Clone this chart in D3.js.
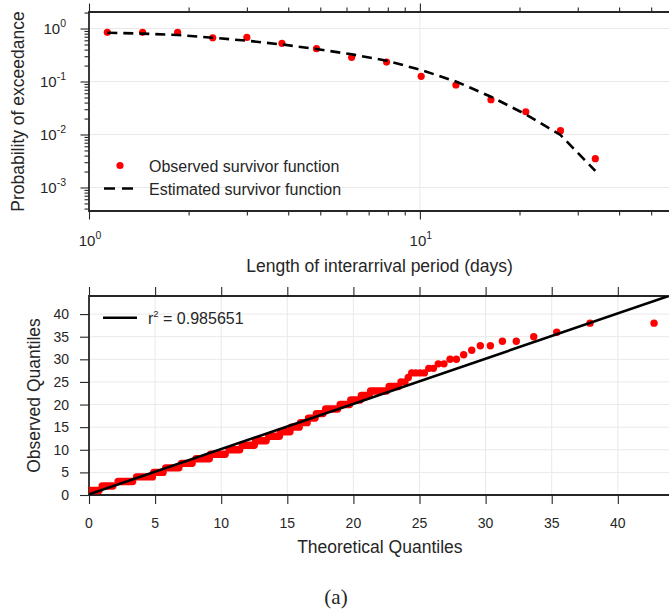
<!DOCTYPE html>
<html><head><meta charset="utf-8">
<script src="https://cdn.jsdelivr.net/npm/d3@7"></script>
<style>
body{margin:0;background:#fff;}
svg text{font-family:"Liberation Sans",Arial,sans-serif;fill:#262626;}
</style></head><body>
<svg id="chart" width="669" height="616"></svg>
<script>
// ---- Survivor function of interarrival periods ----
const survX = [1.136,1.452,1.853,2.365,3.0,3.83,4.87,6.22,7.93,10.09,12.85,16.4,20.9,26.6,33.9];
const survObserved = [0.848,0.848,0.848,0.67,0.68,0.526,0.416,0.286,0.233,0.125,0.0859,0.0454,0.0269,0.0118,0.00349];
const survEstimated = [0.834,0.80,0.753,0.67,0.589,0.50,0.41,0.326,0.247,0.165,0.10,0.0516,0.024,0.0098,0.00205];
const survXMajor = [1, 10];
const survXMinor = [2,3,4,5,6,7,8,9,20,30,40,50];
const survYMajor = [1, 0.1, 0.01, 0.001];
const survYMinor = [0.0004,0.0005,0.0006,0.0007,0.0008,0.0009,
  0.002,0.003,0.004,0.005,0.006,0.007,0.008,0.009,
  0.02,0.03,0.04,0.05,0.06,0.07,0.08,0.09,
  0.2,0.3,0.4,0.5,0.6,0.7,0.8,0.9,2];
const survLegend = ["Observed survivor function", "Estimated survivor function"];

// ---- Q-Q plot: dense integer levels drawn as runs of overlapping points ----
const qqRunLevel = [1,2,3,4,5,6,7,8,9,10,11,12,13,14,15,16,17,18,19,20,21,22,23,24];
const qqRunStart = [0.02,1.0,2.2,3.6,4.9,5.8,7.0,8.1,9.2,10.6,11.6,12.6,13.6,14.5,15.3,16.0,16.6,17.2,17.9,19.0,19.8,20.6,21.3,22.7];
const qqRunEnd   = [0.75,1.8,3.3,4.8,5.6,6.8,7.8,9.1,10.3,11.4,12.5,13.4,14.4,15.2,15.9,16.5,17.1,17.7,18.8,19.7,20.5,21.2,22.5,23.4];
// sparse upper tail, one point each
const qqPointX = [23.6,23.9,24.15,24.41,24.71,25.04,25.37,25.7,26.05,26.42,26.85,27.31,27.79,28.34,28.95,29.6,30.36,31.27,32.32,33.64,35.38,37.9,42.74];
const qqPointY = [25,25,26,27,27,27,27,28,28,29,29,30,30,31,32,33,33,34,34,35,36,38,38];
const qqLineX = [0, 44];
const qqLineY = [0.15, 44.15];
const qqTicks = [0,5,10,15,20,25,30,35,40];
const rSquared = "0.985651";

const ink = "#262626", gridCol = "#e9e9e9", red = "#ff0000";
const labelSize = 17.5, legendSize = 16, tickSize = 14;
const svg = d3.select("#chart");

// ================= top panel =================
const T = {l: 89, r: 670, t: 12, b: 211};
const x1 = d3.scaleLog().domain([1, 57]).range([T.l, T.r]);
const y1 = d3.scaleLog().domain([3.6e-4, 2.05]).range([T.b, T.t]);

svg.append("clipPath").attr("id", "clipTop").append("rect")
  .attr("x", T.l).attr("y", T.t).attr("width", T.r - T.l).attr("height", T.b - T.t);

const gTop = svg.append("g");
gTop.selectAll("line.gy").data(survYMajor).join("line")
  .attr("x1", T.l).attr("x2", T.r).attr("y1", d => y1(d)).attr("y2", d => y1(d))
  .attr("stroke", gridCol).attr("stroke-width", 1);
gTop.selectAll("line.gx").data(survXMajor).join("line")
  .attr("y1", T.t).attr("y2", T.b).attr("x1", d => x1(d)).attr("x2", d => x1(d))
  .attr("stroke", gridCol).attr("stroke-width", 1);

function styleAxis(g) {
  g.select(".domain").remove();
  g.selectAll(".tick line").attr("stroke", ink).attr("stroke-width", 1.1);
  g.selectAll(".tick text").remove();
}
// ticks (outward) on bottom, top and left
[[d3.axisBottom, T.b], [d3.axisTop, T.t]].forEach(([ax, yy]) => {
  gTop.append("g").attr("transform", `translate(0,${yy})`)
    .call(ax(x1).tickValues(survXMajor).tickSize(8.5)).call(styleAxis);
  gTop.append("g").attr("transform", `translate(0,${yy})`)
    .call(ax(x1).tickValues(survXMinor).tickSize(4.5)).call(styleAxis);
});
gTop.append("g").attr("transform", `translate(${T.l},0)`)
  .call(d3.axisLeft(y1).tickValues(survYMajor).tickSize(8.5)).call(styleAxis);
gTop.append("g").attr("transform", `translate(${T.l},0)`)
  .call(d3.axisLeft(y1).tickValues(survYMinor).tickSize(4.5)).call(styleAxis);

// spines
gTop.append("path").attr("d", `M${T.r},${T.t}H${T.l}V${T.b}H${T.r}`)
  .attr("fill", "none").attr("stroke", ink).attr("stroke-width", 1.8);

// data
const plotTop = gTop.append("g").attr("clip-path", "url(#clipTop)");
plotTop.selectAll("circle").data(survX).join("circle")
  .attr("cx", d => x1(d)).attr("cy", (d, i) => y1(survObserved[i])).attr("r", 3.6)
  .attr("fill", red);
plotTop.append("path")
  .datum(survX.map((d, i) => [d, survEstimated[i]]))
  .attr("d", d3.line().x(d => x1(d[0])).y(d => y1(d[1])))
  .attr("fill", "none").attr("stroke", "#000").attr("stroke-width", 2.6)
  .attr("stroke-dasharray", "10,6");

// tick labels with superscript exponents
function powLabel(g, x, y, exp, anchor) {
  const t = g.append("text").attr("x", x).attr("y", y).attr("text-anchor", anchor)
    .attr("font-size", 15);
  t.append("tspan").text("10");
  t.append("tspan").attr("dy", -7).attr("font-size", 10.5).text(exp);
}
survYMajor.forEach(d => powLabel(gTop, 66, y1(d) + 5.2, String(Math.round(Math.log10(d))), "end"));
survXMajor.forEach(d => powLabel(gTop, x1(d) + 1, 246, String(Math.round(Math.log10(d))), "middle"));

gTop.append("text").attr("x", (T.l + T.r) / 2).attr("y", 272).attr("text-anchor", "middle")
  .attr("font-size", labelSize).text("Length of interarrival period (days)");
gTop.append("text").attr("transform", `translate(24,${(T.t + T.b) / 2}) rotate(-90)`)
  .attr("text-anchor", "middle").attr("font-size", labelSize).text("Probability of exceedance");

// legend
gTop.append("circle").attr("cx", 120).attr("cy", 165.5).attr("r", 3.6).attr("fill", red);
gTop.append("line").attr("x1", 104).attr("x2", 133).attr("y1", 188.5).attr("y2", 188.5)
  .attr("stroke", "#000").attr("stroke-width", 2.6).attr("stroke-dasharray", "11,7");
survLegend.forEach((s, i) => gTop.append("text").attr("x", 149).attr("y", 171.5 + i * 23)
  .attr("font-size", legendSize).text(s));

// ================= bottom panel =================
const B = {l: 89, r: 670.7, t: 296, b: 495};
const x2 = d3.scaleLinear().domain([0, 44]).range([B.l, B.r]);
const y2 = d3.scaleLinear().domain([0, 44]).range([B.b, B.t]);

svg.append("clipPath").attr("id", "clipBot").append("rect")
  .attr("x", B.l).attr("y", B.t).attr("width", B.r - B.l).attr("height", B.b - B.t);

const gBot = svg.append("g");
gBot.selectAll("line.gy").data(qqTicks).join("line")
  .attr("x1", B.l).attr("x2", B.r).attr("y1", d => y2(d)).attr("y2", d => y2(d))
  .attr("stroke", gridCol).attr("stroke-width", 1);
gBot.selectAll("line.gx").data(qqTicks).join("line")
  .attr("y1", B.t).attr("y2", B.b).attr("x1", d => x2(d)).attr("x2", d => x2(d))
  .attr("stroke", gridCol).attr("stroke-width", 1);

gBot.append("g").attr("transform", `translate(0,${B.b})`)
  .call(d3.axisBottom(x2).tickValues(qqTicks).tickSize(9)).call(styleAxis);
gBot.append("g").attr("transform", `translate(0,${B.t})`)
  .call(d3.axisTop(x2).tickValues(qqTicks).tickSize(9)).call(styleAxis);
gBot.append("g").attr("transform", `translate(${B.l},0)`)
  .call(d3.axisLeft(y2).tickValues(qqTicks).tickSize(9)).call(styleAxis);

gBot.append("path").attr("d", `M${B.r},${B.t}H${B.l}V${B.b}H${B.r}`)
  .attr("fill", "none").attr("stroke", ink).attr("stroke-width", 1.8);

const plotBot = gBot.append("g").attr("clip-path", "url(#clipBot)");
plotBot.selectAll("line.run").data(qqRunLevel).join("line")
  .attr("x1", (d, i) => x2(qqRunStart[i])).attr("x2", (d, i) => x2(qqRunEnd[i]))
  .attr("y1", d => y2(d)).attr("y2", d => y2(d))
  .attr("stroke", red).attr("stroke-width", 7.4).attr("stroke-linecap", "round");
plotBot.selectAll("circle").data(qqPointX).join("circle")
  .attr("cx", d => x2(d)).attr("cy", (d, i) => y2(qqPointY[i])).attr("r", 3.7)
  .attr("fill", red);
plotBot.append("line")
  .attr("x1", x2(qqLineX[0])).attr("y1", y2(qqLineY[0]))
  .attr("x2", x2(qqLineX[1])).attr("y2", y2(qqLineY[1]))
  .attr("stroke", "#000").attr("stroke-width", 2.6);

gBot.selectAll("text.xt").data(qqTicks).join("text")
  .attr("x", d => x2(d)).attr("y", 528).attr("text-anchor", "middle")
  .attr("font-size", tickSize).text(d => d);
gBot.selectAll("text.yt").data(qqTicks).join("text")
  .attr("x", 69).attr("y", d => y2(d) + 5).attr("text-anchor", "end")
  .attr("font-size", tickSize).text(d => d);

gBot.append("text").attr("x", (B.l + B.r) / 2).attr("y", 553).attr("text-anchor", "middle")
  .attr("font-size", labelSize).text("Theoretical Quantiles");
gBot.append("text").attr("transform", `translate(40,${(B.t + B.b) / 2}) rotate(-90)`)
  .attr("text-anchor", "middle").attr("font-size", labelSize).text("Observed Quantiles");

// legend
gBot.append("line").attr("x1", 103).attr("x2", 137).attr("y1", 317.7).attr("y2", 317.7)
  .attr("stroke", "#000").attr("stroke-width", 2.6);
const lt = gBot.append("text").attr("x", 148).attr("y", 323.5).attr("font-size", legendSize);
lt.append("tspan").text("r");
lt.append("tspan").attr("dy", -6.5).attr("font-size", 9.5).text("2");
lt.append("tspan").attr("dy", 6.5).text(" = " + rSquared);

// panel caption
svg.append("text").attr("x", 336).attr("y", 604).attr("text-anchor", "middle")
  .attr("font-size", 21).style("font-family", "'Liberation Serif','DejaVu Serif',serif")
  .text("(a)");
</script>
</body></html>
